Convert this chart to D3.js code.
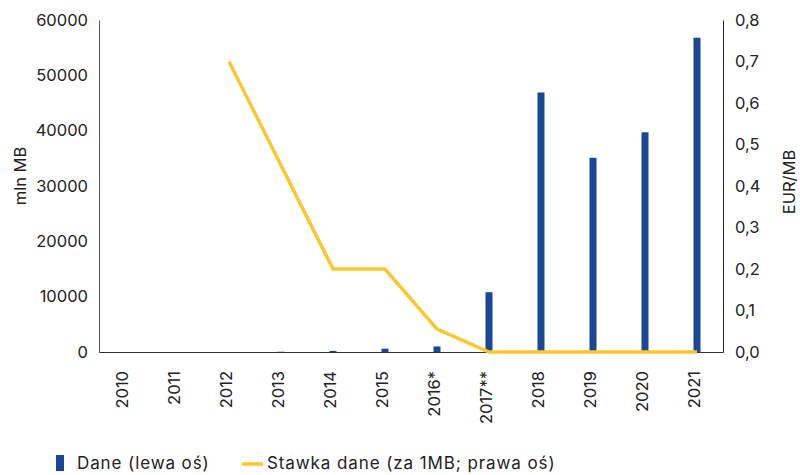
<!DOCTYPE html>
<html>
<head>
<meta charset="utf-8">
<script src="https://cdn.jsdelivr.net/npm/d3@7"></script>
<style>
  body { margin: 0; background: #fff; }
  svg text { font-family: Inter, "Open Sans", sans-serif; fill: #222; }
</style>
</head>
<body>
<svg id="chart" width="800" height="475"></svg>
<script>
const years = ['2010', '2011', '2012', '2013', '2014', '2015', '2016*', '2017**', '2018', '2019', '2020', '2021'];
const dane = [0, 0, 0, 50, 200, 600, 1000, 10800, 46900, 35100, 39700, 56800];
const stawka = [null, null, 0.7, 0.45, 0.2, 0.2, 0.055, 0, 0, 0, 0, 0];
const leftTicks = [0, 10000, 20000, 30000, 40000, 50000, 60000];
const rightTicks = [0, 0.1, 0.2, 0.3, 0.4, 0.5, 0.6, 0.7, 0.8];

const svg = d3.select('#chart');
const plotL = 99, plotR = 723, plotT = 20, plotB = 352;
const fs = '16.5px';

const x = d3.scaleBand().domain(years).range([plotL, plotR]);
const yL = d3.scaleLinear().domain([0, 60000]).range([plotB, plotT]);
const yR = d3.scaleLinear().domain([0, 0.8]).range([plotB, plotT]);

// bars
svg.append('g')
  .selectAll('rect')
  .data(years)
  .enter()
  .append('rect')
  .attr('x', (d) => x(d) + x.bandwidth() / 2 - 3.5)
  .attr('y', (d, i) => yL(dane[i]))
  .attr('width', 7)
  .attr('height', (d, i) => plotB - yL(dane[i]))
  .attr('fill', '#1a4795');

// left axis
const axL = svg.append('g')
  .attr('transform', `translate(${plotL},0)`)
  .call(d3.axisLeft(yL).tickValues(leftTicks).tickSize(0).tickPadding(11).tickFormat(d3.format('d')));
axL.select('.domain').attr('stroke', '#555');
axL.selectAll('text').style('font-size', fs);

// right axis
const axR = svg.append('g')
  .attr('transform', `translate(${plotR},0)`)
  .call(d3.axisRight(yR).tickValues(rightTicks).tickSize(0).tickPadding(12)
    .tickFormat((d) => d3.format('.1f')(d).replace('.', ',')));
axR.select('.domain').attr('stroke', '#222');
axR.selectAll('text').style('font-size', fs);

// bottom axis
const axB = svg.append('g')
  .attr('transform', `translate(0,${plotB})`)
  .call(d3.axisBottom(x).tickSize(0).tickPadding(0));
axB.select('.domain').attr('stroke', '#333');
axB.selectAll('text')
  .style('font-size', fs)
  .attr('text-anchor', 'end')
  .attr('transform', 'rotate(-90)')
  .attr('x', -19)
  .attr('y', -3)
  .attr('dy', '0.35em');

// line
const line = d3.line()
  .defined((d) => d != null)
  .x((d, i) => x(years[i]) + x.bandwidth() / 2)
  .y((d) => yR(d));
svg.append('path')
  .datum(stawka)
  .attr('d', line)
  .attr('fill', 'none')
  .attr('stroke', '#fcc72c')
  .attr('stroke-width', 3.5);

// axis titles
svg.append('text')
  .attr('transform', 'translate(26,176) rotate(-90)')
  .attr('text-anchor', 'middle')
  .style('font-size', fs)
  .text('mln MB');
svg.append('text')
  .attr('transform', 'translate(795,182) rotate(-90)')
  .attr('text-anchor', 'middle')
  .style('font-size', fs)
  .text('EUR/MB');

// legend
const legStyle = (s) => s.style('font-size', '17px').style('letter-spacing', '0.9px');
svg.append('rect').attr('x', 56).attr('y', 455).attr('width', 8).attr('height', 16).attr('fill', '#1a4795');
svg.append('text').attr('x', 77).attr('y', 469).call(legStyle).text('Dane (lewa oś)');
svg.append('line').attr('x1', 242).attr('x2', 263).attr('y1', 464).attr('y2', 464)
  .attr('stroke', '#fcc72c').attr('stroke-width', 3.5);
svg.append('text').attr('x', 267).attr('y', 469).call(legStyle).text('Stawka dane (za 1MB; prawa oś)');
</script>
</body>
</html>
